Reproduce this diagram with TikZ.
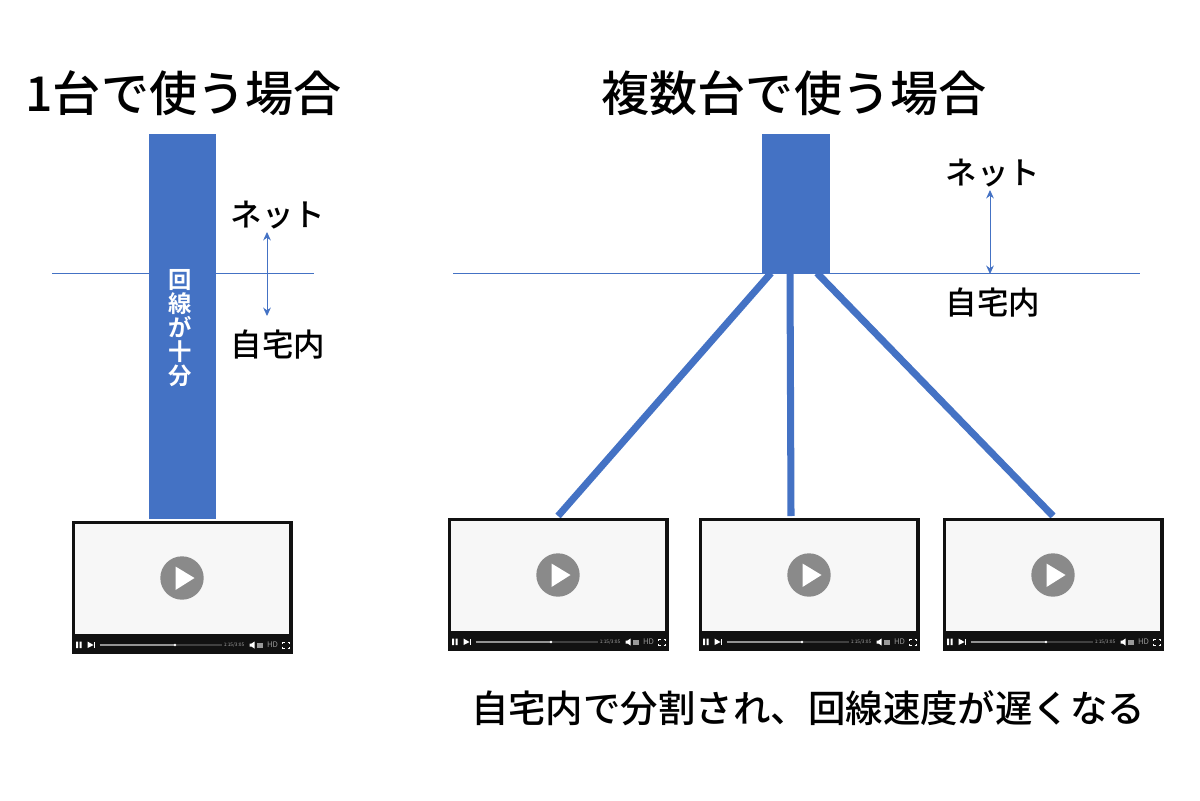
\documentclass[tikz,border=0pt]{standalone}
\usepackage{fontspec}
\setmainfont{Noto Sans CJK JP}
\newfontfamily\headfont{Noto Sans CJK JP Medium}
\newfontfamily\pipefont{Noto Sans CJK JP Bold}
\usetikzlibrary{arrows.meta}
\definecolor{lineblue}{HTML}{4472C4}
\definecolor{screengray}{HTML}{F7F7F7}
\definecolor{playgray}{HTML}{8A8A8A}
\definecolor{framedark}{HTML}{111111}
\tikzset{
  heading/.style={font=\fontsize{34.2}{40}\headfont, inner sep=0pt},
  label/.style={font=\fontsize{22.4}{26}\headfont, inner sep=0pt},
  note/.style={font=\fontsize{26.6}{30}\headfont, inner sep=0pt},
  trunk/.style={draw=none, fill=lineblue, inner sep=0pt, anchor=north west},
  border/.style={draw=lineblue, line width=0.7pt},
  updown/.style={border, {Stealth[length=6pt,width=5.5pt]}-{Stealth[length=6pt,width=5.5pt]}},
  wire/.style={draw=lineblue, line width=5pt},
  player/.pic={
    \fill[framedark] (0,0) rectangle (221,133);
    \fill[screengray] (3.5,3) rectangle (217.5,113);
    \fill[playgray] (110.5,57) circle (21.7);
    \fill[white] (104,45.5) -- (123,57) -- (104,69) -- cycle;
    % control bar
    \fill[white] (4.5,120.5) rectangle (6.5,127) (8,120.5) rectangle (10,127);
    \fill[white] (16,120.5) -- (22,124) -- (16,127) -- cycle;
    \fill[white] (22,120.5) rectangle (23.5,127);
    \draw[gray!85!white, line width=0.9pt] (28,124) -- (103.5,124);
    \draw[gray!50!black, line width=0.9pt] (103.5,124) -- (150,124);
    \fill[white] (103.5,124) circle (1.4);
    \node[text=gray!70, font=\fontsize{3.4}{4}\selectfont, inner sep=0pt] at (162.5,124) {1:15/3:05};
    \fill[white] (178,122.5) rectangle (180,125.5) (180,122.5) -- (183,120.5) -- (183,127.5) -- (180,125.5) -- cycle;
    \fill[gray!80!white] (185,121.5) rectangle (191,126.5);
    \node[text=gray!80!white, font=\fontsize{5.5}{6}\selectfont, inner sep=0pt] at (201,124) {HD};
    \draw[white, line width=0.5pt] (211,122.5) -- (211,121) -- (213,121)
      (216,121) -- (218,121) -- (218,122.5)
      (211,125.5) -- (211,127) -- (213,127)
      (216,127) -- (218,127) -- (218,125.5);
  }
}
\begin{document}
\begin{tikzpicture}[x=0.025cm,y=-0.025cm]
  \useasboundingbox (0,0) rectangle (1200,800);

  \node[heading] (titleone) at (183.5,93) {1台で使う場合};
  \node[heading] (titlemany) at (794,93) {複数台で使う場合};

  % left side
  \coordinate (lineoneL) at (52,273);
  \coordinate (lineoneR) at (314,273);
  \draw[border] (lineoneL) -- (lineoneR);
  \node[trunk, minimum width=67*0.025cm, minimum height=385*0.025cm] (pipe) at (149,134) {};
  \node[text=white, align=center, inner sep=0pt, font=\fontsize{16.6}{17}\pipefont] (pipetext) at (180,328) {回\\線\\が\\十\\分};
  \node[label] (netone) at (278,215) {ネット};
  \node[label] (homeone) at (278,345) {自宅内};
  \coordinate (arrowoneT) at (267,232);
  \coordinate (arrowoneB) at (267,316);
  \draw[updown] (arrowoneT) -- (arrowoneB);
  \pic at (71.5,521) {player};

  % right side
  \coordinate (linemanyL) at (453,273);
  \coordinate (linemanyR) at (1140,273);
  \draw[border] (linemanyL) -- (linemanyR);
  \node[trunk, minimum width=68*0.025cm, minimum height=139*0.025cm] (hub) at (762,134) {};
  \node[label] (netmany) at (993,173) {ネット};
  \node[label] (homemany) at (993,303) {自宅内};
  \coordinate (arrowmanyT) at (990,190);
  \coordinate (arrowmanyB) at (990,274);
  \draw[updown] (arrowmanyT) -- (arrowmanyB);

  \coordinate (hubA) at (771,273);
  \coordinate (hubB) at (790,273);
  \coordinate (hubC) at (817,273);
  \coordinate (tvA) at (558,516);
  \coordinate (tvB) at (791,516);
  \coordinate (tvC) at (1053,516);
  \draw[wire] (hubA) -- (tvA);
  \draw[wire] (hubB) -- (tvB);
  \draw[wire] (hubC) -- (tvC);

  \pic at (447.5,518) {player};
  \pic at (698.5,518) {player};
  \pic at (942.5,518) {player};

  \node[note] (slowtext) at (808,708) {自宅内で分割され、回線速度が遅くなる};
\end{tikzpicture}
\end{document}
